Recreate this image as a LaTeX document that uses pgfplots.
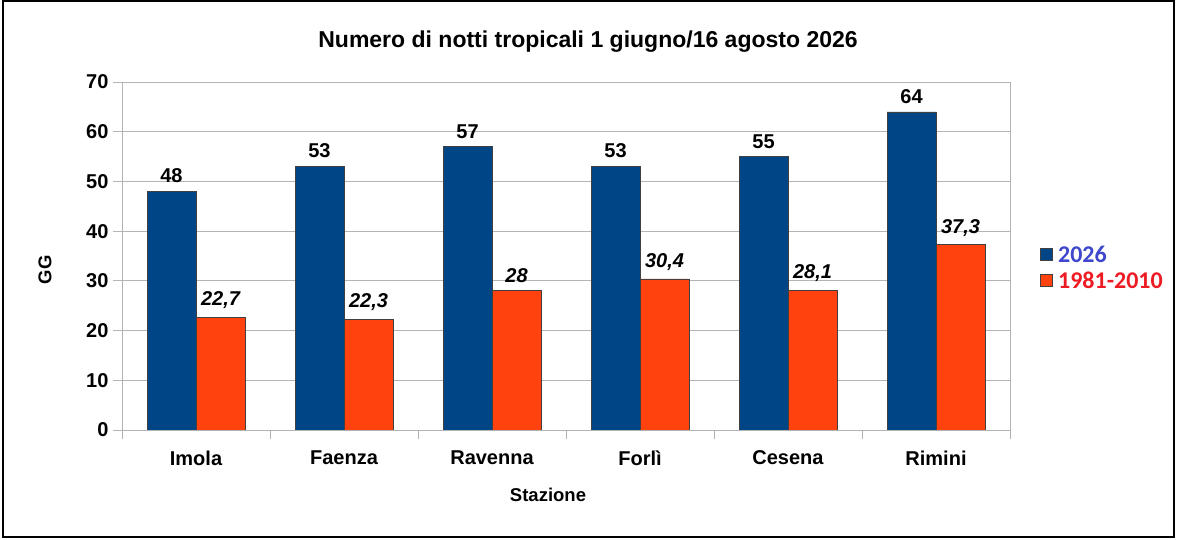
\documentclass[border=0pt]{standalone}
\usepackage{pgfplots}
\pgfplotsset{compat=1.18}
\usepackage{fontspec}
\setmainfont{Liberation Sans}
\newfontfamily\legfont{Carlito}
\definecolor{bluebar}{HTML}{004586}
\definecolor{redbar}{HTML}{FF420E}
\definecolor{legblue}{HTML}{3F48CC}
\definecolor{legred}{HTML}{ED1C24}
\definecolor{gridgray}{HTML}{B3B3B3}
\begin{document}
\begin{tikzpicture}[x=1pt,y=1pt]
\path (0,0) rectangle (1178,540);
\draw[black, line width=1.3pt] (3,3) rectangle (1174,539);
\begin{axis}[
    at={(122pt,110pt)}, anchor=south west,
    width=888pt, height=348pt, scale only axis,
    ybar=0pt, bar width=49pt,
    xmin=-0.5, xmax=5.5,
    ymin=0, ymax=70,
    ytick={0,10,...,70},
    xtick={0,...,5},
    xticklabels={Imola,Faenza,Ravenna,Forlì,Cesena,Rimini},
    minor xtick={-0.5,0.5,...,5.5},
    xtick pos=bottom, ytick pos=left,
    major x tick style={draw=none},
    minor tick length=9pt,
    major tick length=9pt,
    tick align=outside,
    tick style={gridgray, line width=0.9pt},
    ymajorgrids=true,
    grid style={gridgray, line width=0.9pt},
    axis line style={gridgray, line width=0.9pt},
    /pgf/number format/assume math mode=true,
    /pgf/number format/use comma,
    ticklabel style={font=\fontsize{20}{22}\selectfont\bfseries},
    xticklabel style={yshift=-8pt},
    yticklabel style={xshift=-1pt},
    nodes near coords,
    nodes near coords style={font=\fontsize{20}{22}\selectfont\bfseries, inner sep=3pt, yshift=5pt},
    legend style={at={(1.033,0.466)}, anchor=west, draw=none, fill=none,
        font=\legfont\fontsize{24}{26}\selectfont\bfseries, inner sep=0pt,
        row sep=4pt, nodes={inner xsep=6pt}},
    legend image code/.code={\draw[#1] (0pt,-6pt) rectangle (12pt,6pt);},
    legend cell align=left,
]
\addplot[fill=bluebar, draw=black!75, line width=0.6pt] coordinates {
    (0,48) (1,53) (2,57) (3,53) (4,55) (5,64)
};
\addplot[fill=redbar, draw=black!75, line width=0.6pt,
    nodes near coords style={font=\fontsize{20}{22}\selectfont\bfseries\itshape}] coordinates {
    (0,22.7) (1,22.3) (2,28) (3,30.4) (4,28.1) (5,37.3)
};
\legend{\textcolor{legblue}{2026}, \textcolor{legred}{1981-2010}}
\end{axis}
\node[font=\fontsize{23}{26}\selectfont\bfseries] at (588,498) {Numero di notti tropicali 1 giugno/16 agosto 2026};
\node[font=\fontsize{18.5}{22}\selectfont\bfseries] at (548,45) {Stazione};
\node[font=\fontsize{18.5}{22}\selectfont\bfseries, rotate=90] at (45,270) {GG};
\end{tikzpicture}
\end{document}
